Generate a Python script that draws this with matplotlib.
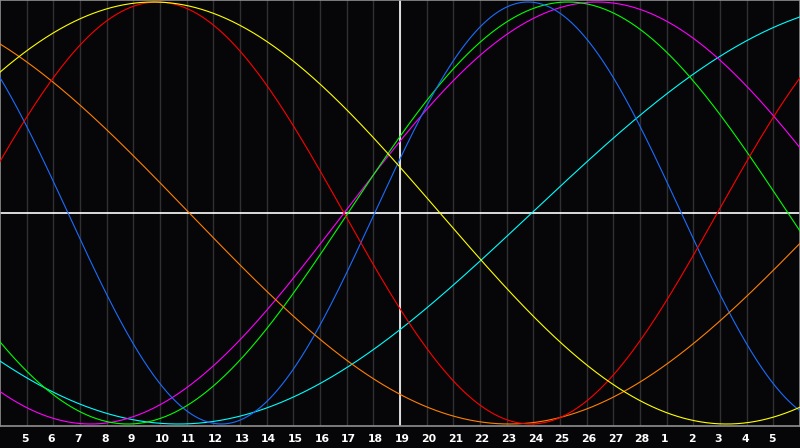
import numpy as np
import matplotlib.pyplot as plt
from matplotlib.transforms import blended_transform_factory

# day labels along the bottom (one per grid line)
day_labels = [5, 6, 7, 8, 9, 10, 11, 12, 13, 14, 15, 16, 17, 18, 19, 20, 21,
              22, 23, 24, 25, 26, 27, 28, 1, 2, 3, 4, 5]
today_index = 15  # day 19

# biorhythm cycles: period in days, chart index where the wave crosses zero going up
cycle_periods = [53, 38, 33, 23, 48, 28, 43]
cycle_zero_up = [19.94, 12.9, 13.05, 14.05, 31.1, 26.9, -5.0]
cycle_colors = ['#00ffff', '#ff00ff', '#00ff00', '#1a6dff', '#ff8000', '#ff0000', '#ffff00']

n_days = 30

fig = plt.figure(figsize=(8, 4.48), dpi=100, facecolor='#060608')
ax = fig.add_axes([0, 22 / 448, 1, 426 / 448])
ax.set_facecolor('#060608')

# day grid
for i in range(1, n_days):
    ax.axvline(i, color='#303032', lw=1, zorder=1)

t = np.linspace(0, n_days, 1200)
for period, zero_up, color in zip(cycle_periods, cycle_zero_up, cycle_colors):
    ax.plot(t, np.sin(2 * np.pi * (t - zero_up) / period), color=color, lw=0.8, zorder=3)

ax.axhline(0, color='white', lw=1.2, zorder=2)
ax.axvline(today_index, color='white', lw=1.2, zorder=2)

ax.set_xlim(0, n_days)
ax.set_ylim(-1.0095, 1.0095)
ax.set_xticks([])
ax.set_yticks([])
for s in ax.spines.values():
    s.set_color('#909090')
    s.set_linewidth(1.2)

# labels start a few pixels left of their grid line
trans = blended_transform_factory(ax.transData, fig.transFigure)
for i, lab in enumerate(day_labels, start=1):
    fig.text(i - 0.21, 1 - 439 / 448, str(lab), transform=trans, color='white',
             fontsize=7.8, fontweight='bold', ha='left', va='center',
             family='DejaVu Sans')

plt.savefig('out.png', dpi=100, facecolor=fig.get_facecolor())
